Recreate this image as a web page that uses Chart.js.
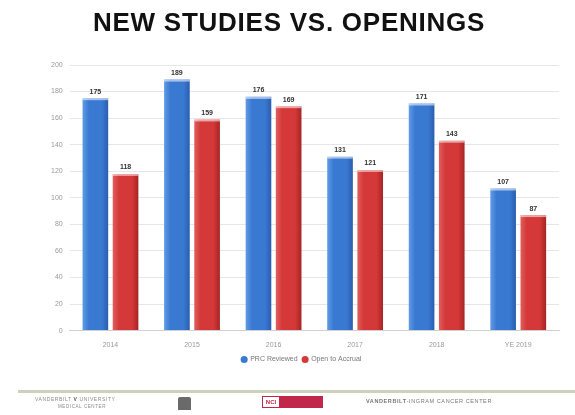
<!DOCTYPE html>
<html>
<head>
<meta charset="utf-8">
<script src="https://cdn.jsdelivr.net/npm/chart.js@4"></script>
<style>
  html, body { margin: 0; padding: 0; background: #fff; }
  #wrap { position: relative; width: 575px; height: 415px; overflow: hidden; }
  canvas { position: absolute; left: 0; top: 0; }
  .title { position: absolute; left: 0; top: 7px; width: 578px; text-align: center; font: bold 26px "Liberation Sans", Arial, sans-serif; letter-spacing: 0.75px; color: #111; line-height: 30px; white-space: nowrap; }
  .rule { position: absolute; left: 18px; top: 390px; width: 557px; height: 3px; background: #cdd1bc; }
  .ft { position: absolute; font-family: "Liberation Sans", Arial, sans-serif; color: #8a8a8a; letter-spacing: 0.6px; white-space: nowrap; }
  .logo-box { position: absolute; left: 178px; top: 397px; width: 13px; height: 13px; background: #6a6a6a; border-radius: 2px 2px 0 0; }
  .nci { position: absolute; left: 262px; top: 396px; width: 61px; height: 12px; background: #c2264a; }
  .nci span { position: absolute; left: 1px; top: 1px; width: 16px; height: 10px; background: #fff; color: #c2264a; font: bold 6px "Liberation Sans", Arial, sans-serif; line-height: 10px; text-align: center; }
</style>
</head>
<body>
<div id="wrap">
  <canvas id="chart" width="575" height="415"></canvas>
  <div class="title">NEW STUDIES VS. OPENINGS</div>
  <div class="rule"></div>
  <div class="ft" style="left:35px; top:396px; font-size:5px;">VANDERBILT <b style="color:#555">V</b> UNIVERSITY</div>
  <div class="ft" style="left:58px; top:404px; font-size:4.5px;">MEDICAL CENTER</div>
  <div class="logo-box"></div>
  <div class="nci"><span>NCI</span></div>
  <div class="ft" style="left:366px; top:398px; font-size:5.5px; color:#777;"><b>VANDERBILT</b>-INGRAM CANCER CENTER</div>
</div>
<script>
// Yearly counts of studies reviewed and studies opened to accrual
const categories = ["2014", "2015", "2016", "2017", "2018", "YE 2019"];
const reviewed = [175, 189, 176, 131, 171, 107];
const opened = [118, 159, 169, 121, 143, 87];
const yTicks = [0, 20, 40, 60, 80, 100, 120, 140, 160, 180, 200];

const seriesNames = ["PRC Reviewed", "Open to Accrual"];
const shades = [
  ["#5f9be6", "#3a79d2", "#2a5eb0"],
  ["#e25d5d", "#d43838", "#a72424"]
];

// Shade each bar with a left-to-right cylinder gradient
const barShading = {
  id: "barShading",
  beforeDatasetsDraw(chart) {
    const ctx = chart.ctx;
    chart.data.datasets.forEach((ds, di) => {
      const meta = chart.getDatasetMeta(di);
      meta.data.forEach(el => {
        const left = el.x - el.width / 2;
        const g = ctx.createLinearGradient(left, 0, left + el.width, 0);
        const s = shades[di];
        g.addColorStop(0, s[0]);
        g.addColorStop(0.25, s[1]);
        g.addColorStop(0.75, s[1]);
        g.addColorStop(1, s[2]);
        el.options = Object.assign({}, el.options, { backgroundColor: g });
      });
    });
  }
};

// Value labels above each bar
const valueLabels = {
  id: "valueLabels",
  afterDatasetsDraw(chart) {
    const ctx = chart.ctx;
    ctx.save();
    ctx.font = "bold 7px 'Liberation Sans', Arial, sans-serif";
    ctx.textAlign = "center";
    ctx.textBaseline = "bottom";
    chart.data.datasets.forEach((ds, di) => {
      const meta = chart.getDatasetMeta(di);
      meta.data.forEach((el, i) => {
        // light cap on top of the bar
        ctx.fillStyle = "rgba(255,255,255,0.55)";
        ctx.fillRect(el.x - el.width / 2, el.y, el.width, 2);
        ctx.fillStyle = "#333";
        ctx.fillText(String(ds.data[i]), el.x, el.y - 3);
      });
    });
    ctx.restore();
  }
};

new Chart(document.getElementById("chart"), {
  type: "bar",
  data: {
    labels: categories,
    datasets: [
      { label: seriesNames[0], data: reviewed, backgroundColor: () => shades[0][1] },
      { label: seriesNames[1], data: opened, backgroundColor: () => shades[1][1] }
    ]
  },
  options: {
    responsive: false,
    animation: false,
    devicePixelRatio: 1,
    categoryPercentage: 0.74,
    barPercentage: 0.85,
    layout: { padding: { left: 44, right: 16, top: 65, bottom: 42 } },
    plugins: {
      title: { display: false },
      legend: {
        position: "bottom",
        labels: {
          boxWidth: 5,
          boxHeight: 5,
          usePointStyle: true,
          pointStyle: "circle",
          color: "#777",
          font: { family: "'Liberation Sans', Arial, sans-serif", size: 7 },
          padding: 5
        }
      },
      tooltip: { enabled: false }
    },
    scales: {
      x: {
        grid: { display: false },
        border: { color: "#d0d0d0" },
        ticks: { color: "#999", font: { family: "'Liberation Sans', Arial, sans-serif", size: 7 }, padding: 2 }
      },
      y: {
        min: 0,
        max: 200,
        afterBuildTicks(scale) { scale.ticks = yTicks.map(v => ({ value: v })); },
        grid: { color: "#e6e6e6", drawTicks: false },
        border: { display: false },
        ticks: { color: "#999", font: { family: "'Liberation Sans', Arial, sans-serif", size: 7 }, padding: 7 }
      }
    }
  },
  plugins: [barShading, valueLabels]
});
</script>
</body>
</html>
